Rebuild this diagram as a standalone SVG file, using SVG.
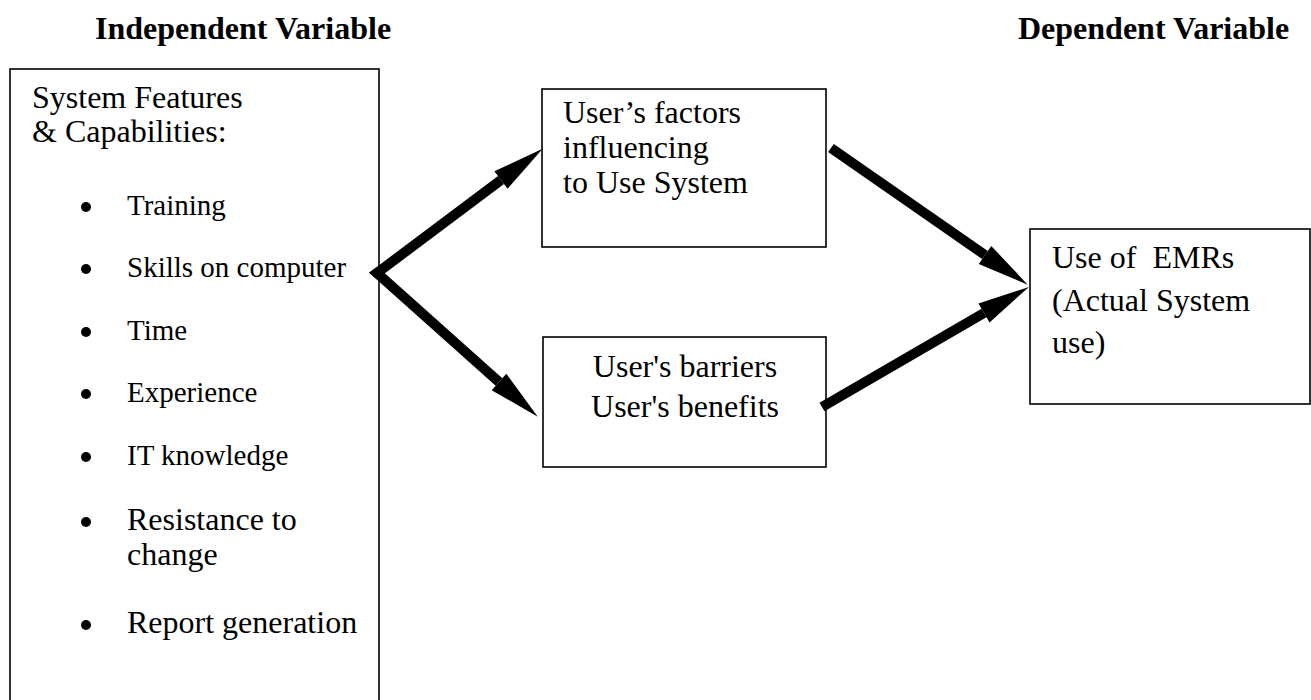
<svg xmlns="http://www.w3.org/2000/svg" width="1311" height="700" viewBox="0 0 1311 700">
  <style>
    text { font-family: "Liberation Serif", "Times New Roman", serif; fill: #000; }
    .title { font-size: 32px; font-weight: bold; }
    .lbl { font-size: 32px; }
    .item { font-size: 29px; }
    .box { fill: #fff; stroke: #000; stroke-width: 1.6; }
    .bullet { fill: #000; }
    .conn { fill: none; stroke: #000; stroke-width: 10; stroke-linejoin: miter; stroke-linecap: butt; marker-end: url(#head); }
  </style>
  <defs>
    <!-- filled arrowhead; its base sits at the end of the shaft -->
    <marker id="head" markerUnits="userSpaceOnUse" viewBox="0 -11 52 22" refX="0" refY="0" markerWidth="52" markerHeight="22" orient="auto" overflow="visible">
      <path d="M0,-11 L52,0 L0,11 z" fill="#000"/>
    </marker>
  </defs>

  <rect width="1311" height="700" fill="#fff"/>

  <text class="title" x="95" y="39">Independent Variable</text>
  <text class="title" x="1018" y="39">Dependent Variable</text>

  <g id="features">
    <rect class="box" x="10" y="69" width="369" height="700"/>
    <text class="lbl" x="32" y="108">System Features</text>
    <text class="lbl" x="32" y="142">&amp; Capabilities:</text>
    <circle class="bullet" cx="86" cy="207" r="5"/>
    <text class="item" x="127" y="215">Training</text>
    <circle class="bullet" cx="86" cy="269" r="5"/>
    <text class="item" x="127" y="277">Skills on computer</text>
    <circle class="bullet" cx="86" cy="332" r="5"/>
    <text class="item" x="127" y="340">Time</text>
    <circle class="bullet" cx="86" cy="394" r="5"/>
    <text class="item" x="127" y="402">Experience</text>
    <circle class="bullet" cx="86" cy="457" r="5"/>
    <text class="item" x="127" y="465">IT knowledge</text>
    <circle class="bullet" cx="86" cy="522" r="5"/>
    <text class="lbl" x="127" y="530">Resistance to</text>
    <text class="lbl" x="127" y="565">change</text>
    <circle class="bullet" cx="86" cy="625" r="5"/>
    <text class="lbl" x="127" y="633">Report generation</text>
  </g>

  <g id="factors">
    <rect class="box" x="542" y="89" width="284" height="158"/>
    <text class="lbl" x="563" y="123">User’s factors</text>
    <text class="lbl" x="563" y="158">influencing</text>
    <text class="lbl" x="563" y="193">to Use System</text>
  </g>

  <g id="barriers">
    <rect class="box" x="543" y="337" width="283" height="130"/>
    <text class="lbl" x="685" y="377" text-anchor="middle">User's barriers</text>
    <text class="lbl" x="685" y="417" text-anchor="middle">User's benefits</text>
  </g>

  <g id="emr-use">
    <rect class="box" x="1030" y="229" width="280" height="175"/>
    <text class="lbl" x="1052" y="268" xml:space="preserve">Use of  EMRs</text>
    <text class="lbl" x="1052" y="311">(Actual System</text>
    <text class="lbl" x="1052" y="353">use)</text>
  </g>

  <g id="connectors">
    <!-- the short lead-in segment gives a pointed join where the two arms meet -->
    <path class="conn" d="M378.5,274.3 L377,273 L501,180"/>
    <path class="conn" d="M378.6,271.8 L377,273 L499,382"/>
    <path class="conn" d="M831,148 L985,255"/>
    <path class="conn" d="M822,407 L984,313"/>
  </g>
</svg>
